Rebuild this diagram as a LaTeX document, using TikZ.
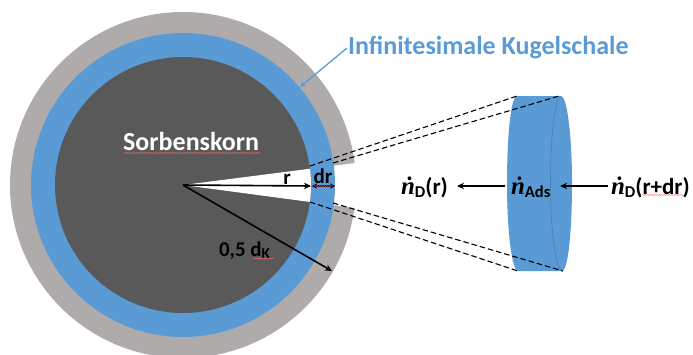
\documentclass[tikz,border=0pt]{standalone}
\usepackage{fontspec}
\setmainfont{Carlito}
\newfontfamily\nfont{Liberation Serif}
\usetikzlibrary{arrows.meta,decorations.pathmorphing}
\definecolor{ringgray}{HTML}{AFABAB}
\definecolor{shellblue}{HTML}{5B9BD5}
\definecolor{coredark}{HTML}{595959}
\definecolor{discedge}{HTML}{4A80B0}
\newcommand{\ndot}{{\nfont\bfseries\itshape\fontsize{25}{26}\selectfont ṅ}}
\newcommand{\subs}[1]{\raisebox{-0.28ex}{\scalebox{0.72}{#1}}}
\tikzset{
  lbl/.style={font=\bfseries\fontsize{21}{23}\selectfont,text=black,inner sep=0pt,outer sep=0pt},
  flux/.style={font=\bfseries\fontsize{23}{25}\selectfont,text=black,inner sep=0pt,outer sep=0pt},
  arr/.style={line width=1.6pt,-{Stealth[length=7pt,width=6.5pt]}},
  dashline/.style={line width=1.1pt,dash pattern=on 5.5pt off 3pt},
  squig/.style={red!60,line width=0.4pt,decorate,decoration={snake,amplitude=0.5pt,segment length=2.4pt}}
}
\begin{document}
\begin{tikzpicture}[x=1pt,y=-1pt]
\useasboundingbox (0,0) rectangle (693,354);
\clip (0,0) rectangle (693,354);
\coordinate (c) at (183,185);
\coordinate (wt) at (355,163);
\coordinate (wb) at (355,208);
% circles
\fill[ringgray] (c) circle[radius=173];
\fill[white] (c) -- (wt) -- (400,157) -- (400,214) -- (wb) -- cycle;
\fill[shellblue] (c) circle[radius=152];
\fill[coredark] (c) circle[radius=128];
\begin{scope}
  \clip (c) circle[radius=128];
  \fill[white] (c) -- (wt) -- (wb) -- cycle;
\end{scope}
% disc
\coordinate (dtl) at (517,96);
\coordinate (dtr) at (561,96);
\coordinate (dbl) at (518,271);
\coordinate (dbr) at (562,271);
\fill[shellblue] (dtl) -- (dtr)
   .. controls (567,96) and (572,135) .. (572,183.5)
   .. controls (572,232) and (568,271) .. (dbr)
   -- (dbl)
   .. controls (512,271) and (507,232) .. (507,183.5)
   .. controls (507,135) and (511,96) .. (dtl) -- cycle;
\draw[discedge,line width=0.6pt] (dtr)
   .. controls (555,96) and (550.5,135) .. (550.5,183.5)
   .. controls (550.5,232) and (556,271) .. (dbr);
% dashed
\coordinate (a1) at (310,166);
\coordinate (a2) at (333,163);
\coordinate (b1) at (310,202);
\coordinate (b2) at (333,203);
\coordinate (e2) at (559,96);
\coordinate (f2) at (563,271);
\draw[dashline] (a1) -- (dtl);
\draw[dashline] (a2) -- (e2);
\draw[dashline] (b1) -- (dbl);
\draw[dashline] (b2) -- (f2);
% arrows in sphere
\coordinate (rend) at (311,186);
\coordinate (drl) at (312,186);
\coordinate (drr) at (335,186);
\coordinate (dkend) at (332,271);
\draw[arr] (c) -- (rend);
\draw[arr] (c) -- (dkend);
\draw[line width=1.3pt,{Stealth[length=5pt,width=5pt]}-{Stealth[length=5pt,width=5pt]}] (drl) -- (drr);
% labels
\node[font=\bfseries\fontsize{26}{28}\selectfont,text=white,inner sep=0pt,anchor=base west] (core) at (123,150) {Sorbenskorn};
\draw[squig] (124,153) -- (260,153);
\node[lbl,anchor=base] (rlab) at (287,184) {r};
\node[lbl,anchor=base] (drlab) at (323,183) {dr};
\draw[squig] (314,186) -- (333,186);
\node[lbl,anchor=base west] (dk) at (219,256) {0,5 d\subs{K}};
\draw[squig] (253,258.5) -- (274,258.5);
\node[font=\bfseries\fontsize{26}{28}\selectfont,text=shellblue,inner sep=0pt,anchor=base west] (shell) at (348,54) {Infinitesimale Kugelschale};
\coordinate (shellhit) at (300,87);
\draw[shellblue,line width=1.3pt,-{Stealth[length=6pt,width=5.5pt]}] (shell.base west) ++(-1,-6) -- (shellhit);
% flux labels
\node[flux,anchor=base west] (n1) at (401,194) {\ndot\subs{D}(r)};
\node[flux,anchor=base west] (n2) at (511,194) {\ndot\subs{Ads}};
\node[flux,anchor=base west] (n3) at (611,194) {\ndot\subs{D}(r+dr)};
\draw[squig] (642,195) -- (684,195);
\coordinate (a1s) at (505,186);
\coordinate (a1e) at (457,186);
\coordinate (a2s) at (608,186);
\coordinate (a2e) at (560,186);
\draw[arr] (a1s) -- (a1e);
\draw[arr] (a2s) -- (a2e);
\end{tikzpicture}
\end{document}
